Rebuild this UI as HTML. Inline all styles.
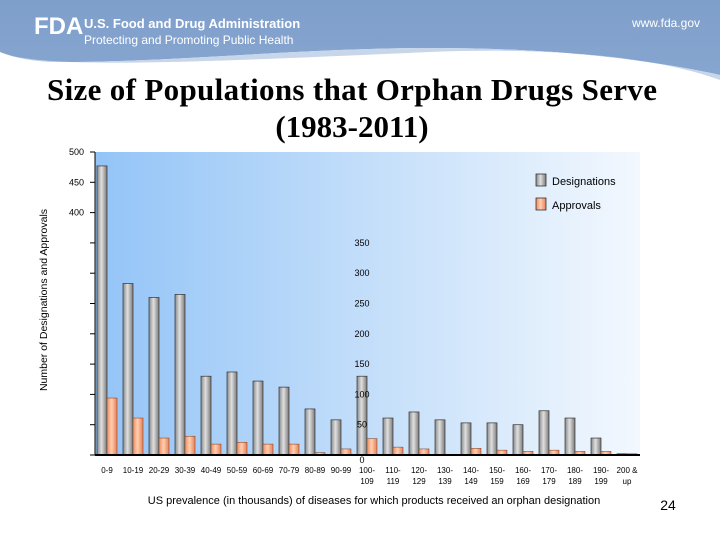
<!DOCTYPE html>
<html><head><meta charset="utf-8"><style>
body{margin:0;width:720px;height:540px;background:#fff;overflow:hidden;font-family:"Liberation Sans",sans-serif;}
</style></head><body>
<svg width="720" height="540" xmlns="http://www.w3.org/2000/svg">
<defs>
<linearGradient id="hdr" x1="0" y1="0" x2="0" y2="1"><stop offset="0" stop-color="#7f9fcb"/><stop offset="1" stop-color="#86a6d0"/></linearGradient>
<linearGradient id="plotbg" x1="0" y1="0" x2="1" y2="0"><stop offset="0" stop-color="#93c4f7"/><stop offset="0.5" stop-color="#c3defa"/><stop offset="1" stop-color="#f3f8fe"/></linearGradient>
<linearGradient id="gbar" x1="0" y1="0" x2="1" y2="0"><stop offset="0" stop-color="#888"/><stop offset="0.45" stop-color="#e0e0e0"/><stop offset="1" stop-color="#7a7a7a"/></linearGradient>
<linearGradient id="obar" x1="0" y1="0" x2="1" y2="0"><stop offset="0" stop-color="#f08a60"/><stop offset="0.45" stop-color="#ffd0b0"/><stop offset="1" stop-color="#e8805a"/></linearGradient>
</defs>
<path d="M0 0H720V75C650 60 560 48 430 48C300 48 180 62 60 62C35 62 15 58 0 52Z" fill="url(#hdr)"/>
<path d="M0 52C40 70 200 62 430 52C560 47 660 58 720 80V75C650 60 560 48 430 48C300 48 180 62 60 62C35 62 15 58 0 52Z" fill="#c8d6ea"/>
<text x="34" y="34" font-size="24" font-weight="bold" fill="#fff" font-family="Liberation Sans">FDA</text>
<text x="84" y="28" font-size="13" font-weight="bold" fill="#fff">U.S. Food and Drug Administration</text>
<text x="84" y="44" font-size="12" fill="#fff">Protecting and Promoting Public Health</text>
<text x="700" y="27" font-size="12" fill="#fff" text-anchor="end">www.fda.gov</text>
<text x="352" y="100" font-size="31" font-weight="bold" text-anchor="middle" font-family="Liberation Serif" textLength="610">Size of Populations that Orphan Drugs Serve</text>
<text x="352" y="137" font-size="31" font-weight="bold" text-anchor="middle" font-family="Liberation Serif">(1983-2011)</text>
<rect x="95" y="152" width="545" height="303" fill="url(#plotbg)"/>
<g id="bars"></g>
<g id="axes"></g>
<text transform="translate(47,300) rotate(-90)" font-size="10.5" text-anchor="middle">Number of Designations and Approvals</text>
<text x="374" y="504" font-size="11" text-anchor="middle">US prevalence (in thousands) of diseases for which products received an orphan designation</text>
<text x="668" y="510" font-size="14" text-anchor="middle">24</text>
<g>
<rect x="536" y="174" width="10" height="12" fill="url(#gbar)" stroke="#333" stroke-width="0.8"/>
<text x="552" y="185" font-size="11">Designations</text>
<rect x="536" y="198" width="10" height="12" fill="url(#obar)" stroke="#333" stroke-width="0.8"/>
<text x="552" y="209" font-size="11">Approvals</text>
</g>
</svg>
<script>
const categories=["0-9","10-19","20-29","30-39","40-49","50-59","60-69","70-79","80-89","90-99","100-|109","110-|119","120-|129","130-|139","140-|149","150-|159","160-|169","170-|179","180-|189","190-|199","200 &|up"];
const designations=[477,283,260,265,130,137,122,112,76,58,130,61,71,58,53,53,50,73,61,28,2];
const approvals=[94,61,28,31,18,21,18,18,4,10,27,13,10,1,11,8,6,8,6,6,2];
const yTicks=[0,50,100,150,200,250,300,350,400,450,500];
const NS="http://www.w3.org/2000/svg";
const x0=95,groupW=26,y0=455,yTop=152,yMax=500;
function y(v){return y0-(v/yMax)*(y0-yTop);}
function gx(i){return x0+2+i*groupW;}
const bars=document.getElementById('bars'),axes=document.getElementById('axes');
function mk(tag,attrs,parent){const e=document.createElementNS(NS,tag);for(const k in attrs)e.setAttribute(k,attrs[k]);parent.appendChild(e);return e;}
categories.forEach((c,i)=>{
  const d=mk('rect',{x:gx(i),y:y(designations[i]),width:10,height:y0-y(designations[i]),fill:'url(#gbar)',stroke:'#333','stroke-width':0.7},bars);
  
  
  const a=mk('rect',{x:gx(i)+10,y:y(approvals[i]),width:10,height:y0-y(approvals[i]),fill:'url(#obar)',stroke:'#7a3a20','stroke-width':0.5},bars);
  
  
  const parts=c.split('|');
  parts.forEach((p,j)=>{
    const t=mk('text',{x:gx(i)+10,y:473+j*11,'font-size':8,'text-anchor':'middle'},axes);
    t.textContent=p;
    
    
  });
});
mk('line',{x1:x0,y1:yTop,x2:x0,y2:y0,stroke:'#000','stroke-width':1},axes);
mk('line',{x1:x0,y1:y0,x2:640,y2:y0,stroke:'#000','stroke-width':2},axes);
yTicks.forEach(v=>{
  const l=mk('line',{x1:x0-5,y1:y(v),x2:x0,y2:y(v),stroke:'#000'},axes);
  
  
  const big=v>=400;
  const t=mk('text',{x:big?84:362,y:y(v)+(v===0?8:3),'font-size':9,'text-anchor':big?'end':'middle'},axes);
  t.textContent=v;
  
  
});
</script>
</body></html>
